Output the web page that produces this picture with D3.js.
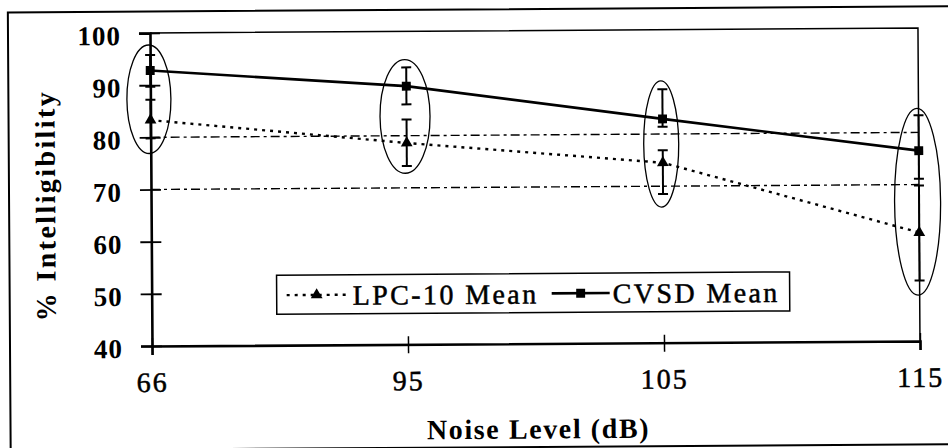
<!DOCTYPE html>
<html>
<head>
<meta charset="utf-8">
<script src="https://cdn.jsdelivr.net/npm/d3@7"></script>
<style>
  body { margin: 0; background: #fff; }
  text { font-family: "Liberation Serif", "Times New Roman", serif; fill: #000; }
  .ink { stroke: #000; stroke-width: 0.5px; }
</style>
</head>
<body>
<svg id="chart" width="948" height="448"></svg>
<script>
// data
var categories = ["66", "95", "105", "115"];
var lpcMean = [83.3, 78.6, 74.5, 60.8];
var lpcLow  = [79.8, 74.2, 68.5, 51.6];
var lpcHigh = [87.2, 83.1, 76.9, 69.8];
var cvsdMean = [92.8, 89.5, 82.9, 76.5];
var cvsdLow  = [89.7, 86.0, 81.4, 71.1];
var cvsdHigh = [95.8, 93.1, 88.6, 83.3];
var refLines = [80, 70];
// the hand drawn ellipses round each group (value range)
var groupTop    = [97.7, 94.6, 90.2, 84.6];
var groupBottom = [76.9, 72.8, 66.0, 48.8];
var yTicks = [40, 50, 60, 70, 80, 90, 100];
var seriesNames = ["LPC-10 Mean", "CVSD Mean"];

var ellipseRx = [22, 25, 17.5, 23];

var svg = d3.select("#chart");
// the scan is a little tilted
var g = svg.append("g").attr("transform", "rotate(-0.37,152,346)");

// outer frame
g.append("rect")
  .attr("x", 10).attr("y", 11.5).attr("width", 960).attr("height", 438)
  .attr("fill", "none").attr("stroke", "#000").attr("stroke-width", 2);

var x = d3.scalePoint().domain(categories).range([152, 920]);
var y = d3.scaleLinear().domain([40, 100]).range([346, 33]);

// plot area border (top + right thin)
g.append("path")
  .attr("d", "M" + x.range()[0] + "," + y(100) + "H" + x.range()[1] + "V" + y(40))
  .attr("fill", "none").attr("stroke", "#000").attr("stroke-width", 1.5);

// dash-dot reference lines
g.selectAll(".ref").data(refLines).enter().append("line")
  .attr("x1", x.range()[0]).attr("x2", x.range()[1])
  .attr("y1", function(d){ return y(d) }).attr("y2", function(d){ return y(d) })
  .attr("stroke", "#000").attr("stroke-width", 1.4)
  .attr("stroke-dasharray", "9,4,3,4");

// y axis
var yAxis = g.append("g")
  .attr("transform", "translate(" + x.range()[0] + ",0)")
  .call(d3.axisLeft(y).tickValues(yTicks).tickSize(11).tickPadding(18));
yAxis.select(".domain").attr("stroke-width", 2.6);
yAxis.selectAll(".tick line").attr("x1", 10).attr("stroke-width", 1.8);
yAxis.selectAll(".tick text")
  .style("font-family", "Liberation Serif").style("font-size", "27px")
  .style("font-weight", "bold").style("letter-spacing", "1px")
  .attr("dy", "0.42em");

// x axis
var xAxis = g.append("g")
  .attr("transform", "translate(0," + y(40) + ")")
  .call(d3.axisBottom(x).tickSize(9).tickPadding(17));
xAxis.select(".domain").attr("stroke-width", 2.6);
xAxis.selectAll(".tick line").attr("y1", -8).attr("stroke-width", 1.5);
xAxis.selectAll(".tick text")
  .attr("class", "ink")
  .style("font-family", "Liberation Serif").style("font-size", "28px")
  .style("letter-spacing", "2px");

// ellipses
g.selectAll(".grp").data(categories).enter().append("ellipse")
  .attr("cx", function(d){ return x(d) - 1.5 })
  .attr("cy", function(d, i){ return (y(groupTop[i]) + y(groupBottom[i])) / 2 })
  .attr("rx", function(d, i){ return ellipseRx[i] })
  .attr("ry", function(d, i){ return (y(groupBottom[i]) - y(groupTop[i])) / 2 })
  .attr("fill", "none").attr("stroke", "#000").attr("stroke-width", 1.3);

// error bars
function errorBars(lo, hi) {
  var eb = g.append("g");
  categories.forEach(function(c, i) {
    eb.append("line")
      .attr("x1", x(c)).attr("x2", x(c))
      .attr("y1", y(lo[i])).attr("y2", y(hi[i]))
      .attr("stroke", "#000").attr("stroke-width", 2);
    [lo[i], hi[i]].forEach(function(v) {
      eb.append("line")
        .attr("x1", x(c) - 5).attr("x2", x(c) + 5)
        .attr("y1", y(v)).attr("y2", y(v))
        .attr("stroke", "#000").attr("stroke-width", 2);
    });
  });
}
errorBars(lpcLow, lpcHigh);
errorBars(cvsdLow, cvsdHigh);

var line = d3.line()
  .x(function(d, i){ return x(categories[i]) })
  .y(function(d){ return y(d) });

g.append("path").datum(lpcMean).attr("d", line)
  .attr("fill", "none").attr("stroke", "#000").attr("stroke-width", 2.4)
  .attr("stroke-dasharray", "3,5");
g.append("path").datum(cvsdMean).attr("d", line)
  .attr("fill", "none").attr("stroke", "#000").attr("stroke-width", 2.6);

var tri = d3.symbol().type(d3.symbolTriangle).size(60);
var sq = d3.symbol().type(d3.symbolSquare).size(80);

g.selectAll(".tri").data(lpcMean).enter().append("path")
  .attr("d", tri)
  .attr("transform", function(d, i){ return "translate(" + x(categories[i]) + "," + y(d) + ")" });
g.selectAll(".sq").data(cvsdMean).enter().append("path")
  .attr("d", sq)
  .attr("transform", function(d, i){ return "translate(" + x(categories[i]) + "," + y(d) + ")" });

// legend
var lg = g.append("g");
lg.append("rect")
  .attr("x", 277).attr("y", 276).attr("width", 513).attr("height", 39)
  .attr("fill", "#fff").attr("stroke", "#000").attr("stroke-width", 1.5);
var ly = 296;
lg.append("line").attr("x1", 287).attr("x2", 348).attr("y1", ly).attr("y2", ly)
  .attr("stroke", "#000").attr("stroke-width", 2.4).attr("stroke-dasharray", "3,5");
lg.append("path").attr("d", tri).attr("transform", "translate(317," + ly + ")");
lg.append("text").attr("class", "ink").attr("x", 353).attr("y", ly + 10)
  .style("font-size", "28px").style("letter-spacing", "2.4px")
  .text(seriesNames[0]);
lg.append("line").attr("x1", 552).attr("x2", 610).attr("y1", ly).attr("y2", ly)
  .attr("stroke", "#000").attr("stroke-width", 2.6);
lg.append("path").attr("d", sq).attr("transform", "translate(581," + ly + ")");
lg.append("text").attr("class", "ink").attr("x", 613).attr("y", ly + 10)
  .style("font-size", "28px").style("letter-spacing", "2.4px")
  .text(seriesNames[1]);

// axis titles
g.append("text")
  .attr("transform", "translate(56,205) rotate(-90)")
  .attr("text-anchor", "middle")
  .style("font-size", "28px").style("font-weight", "bold").style("letter-spacing", "2.4px")
  .text("% Intelligibility");
g.append("text")
  .attr("x", 538).attr("y", 441)
  .attr("text-anchor", "middle")
  .style("font-size", "28px").style("font-weight", "bold").style("letter-spacing", "1.6px")
  .text("Noise Level (dB)");
</script>
</body>
</html>
